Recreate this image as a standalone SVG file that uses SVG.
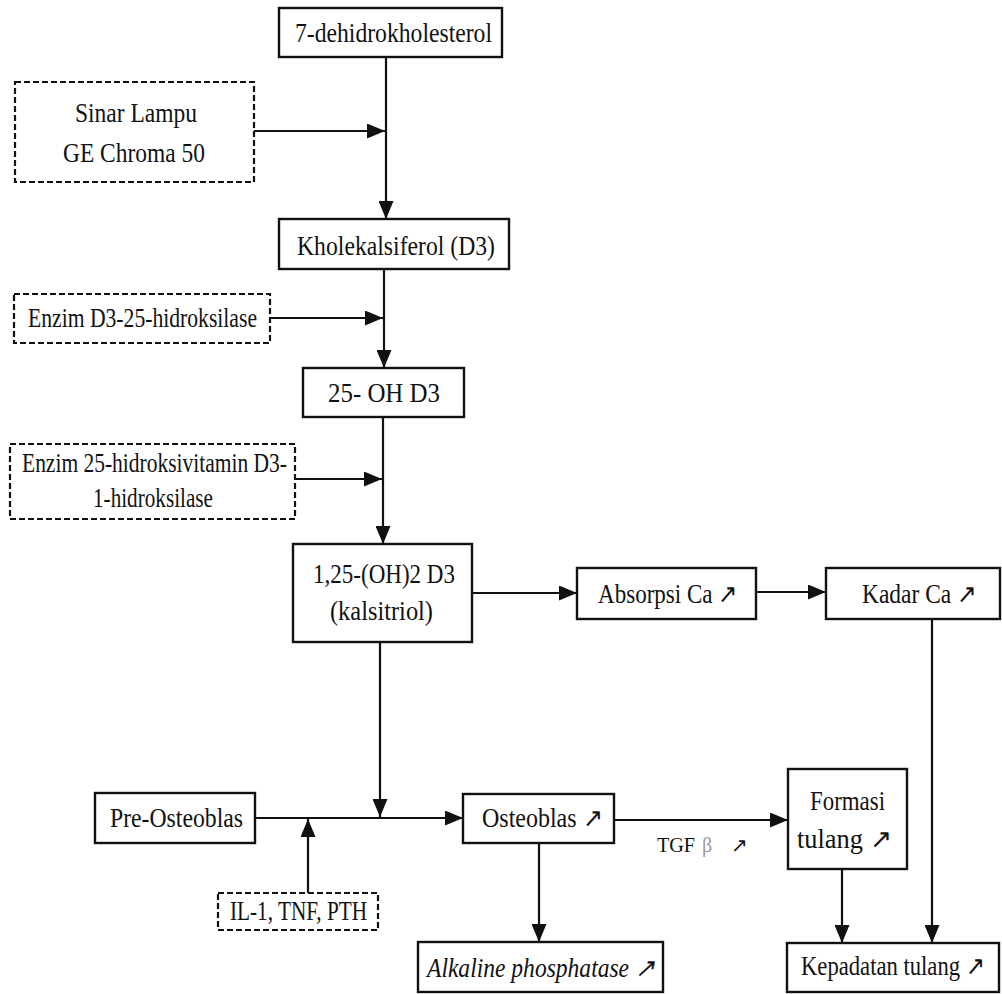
<svg xmlns="http://www.w3.org/2000/svg" width="1002" height="994" viewBox="0 0 1002 994">
<style>
.box{fill:#fff;stroke:#111;stroke-width:2.4}
.dbox{fill:#fff;stroke:#111;stroke-width:2.2;stroke-dasharray:6 3}
.c{fill:none;stroke:#111;stroke-width:2.2}
text{font-family:"Liberation Serif","Times New Roman",serif;font-size:27px;fill:#111}
.it{font-style:italic}
.sm{font-size:20px}
.beta{fill:#999}
</style>
<defs>
<marker id="ah" viewBox="0 0 18 15" refX="18" refY="7.5" markerWidth="18" markerHeight="15" markerUnits="userSpaceOnUse" orient="auto">
<path d="M0,0 L18,7.5 L0,15 z" fill="#111"/>
</marker>
</defs>
<rect width="1002" height="994" fill="#fff"/>
<g id="connectors">
<path class="c" d="M386,57 V219" marker-end="url(#ah)"/>
<path class="c" d="M254,131 H385" marker-end="url(#ah)"/>
<path class="c" d="M384,269 V368" marker-end="url(#ah)"/>
<path class="c" d="M270,318 H383" marker-end="url(#ah)"/>
<path class="c" d="M383,417 V544" marker-end="url(#ah)"/>
<path class="c" d="M295,479 H382" marker-end="url(#ah)"/>
<path class="c" d="M380,642 V817" marker-end="url(#ah)"/>
<path class="c" d="M255,818 H463" marker-end="url(#ah)"/>
<path class="c" d="M308,893 V819" marker-end="url(#ah)"/>
<path class="c" d="M472,593 H577" marker-end="url(#ah)"/>
<path class="c" d="M756,592 H826" marker-end="url(#ah)"/>
<path class="c" d="M614,820 H788" marker-end="url(#ah)"/>
<path class="c" d="M539,843 V942" marker-end="url(#ah)"/>
<path class="c" d="M842,869 V943" marker-end="url(#ah)"/>
<path class="c" d="M932,619 V943" marker-end="url(#ah)"/>
</g>
<g id="n-dehidro">
<rect class="box" x="279" y="8" width="223" height="49"/>
<text x="295" y="42" textLength="197" lengthAdjust="spacingAndGlyphs">7-dehidrokholesterol</text>
</g>
<g id="n-sinar">
<rect class="dbox" x="15" y="82" width="239" height="100"/>
<text x="75" y="122" textLength="122" lengthAdjust="spacingAndGlyphs">Sinar Lampu</text>
<text x="63" y="162" textLength="142" lengthAdjust="spacingAndGlyphs">GE Chroma 50</text>
</g>
<g id="n-kholekalsiferol">
<rect class="box" x="279" y="219" width="230" height="50"/>
<text x="297" y="255" textLength="198" lengthAdjust="spacingAndGlyphs">Kholekalsiferol (D3)</text>
</g>
<g id="n-enzim1">
<rect class="dbox" x="14" y="294" width="256" height="49"/>
<text x="28" y="327" textLength="229" lengthAdjust="spacingAndGlyphs">Enzim D3-25-hidroksilase</text>
</g>
<g id="n-25oh">
<rect class="box" x="303" y="368" width="161" height="49"/>
<text x="328" y="402" textLength="112" lengthAdjust="spacingAndGlyphs">25- OH D3</text>
</g>
<g id="n-enzim2">
<rect class="dbox" x="10" y="444" width="285" height="75"/>
<text x="22" y="472" textLength="265" lengthAdjust="spacingAndGlyphs">Enzim 25-hidroksivitamin D3-</text>
<text x="93" y="507" textLength="120" lengthAdjust="spacingAndGlyphs">1-hidroksilase</text>
</g>
<g id="n-kalsitriol">
<rect class="box" x="293" y="544" width="179" height="98"/>
<text x="313" y="583" textLength="142" lengthAdjust="spacingAndGlyphs">1,25-(OH)2 D3</text>
<text x="330" y="620" textLength="103" lengthAdjust="spacingAndGlyphs">(kalsitriol)</text>
</g>
<g id="n-absorpsi">
<rect class="box" x="577" y="568" width="179" height="51"/>
<text x="598" y="603" textLength="140" lengthAdjust="spacingAndGlyphs">Absorpsi Ca ↗</text>
</g>
<g id="n-kadar">
<rect class="box" x="826" y="568" width="174" height="51"/>
<text x="862" y="603" textLength="115" lengthAdjust="spacingAndGlyphs">Kadar Ca ↗</text>
</g>
<g id="n-preosteoblas">
<rect class="box" x="95" y="793" width="160" height="50"/>
<text x="110" y="827" textLength="133" lengthAdjust="spacingAndGlyphs">Pre-Osteoblas</text>
</g>
<g id="n-il">
<rect class="dbox" x="218" y="893" width="160" height="37"/>
<text x="230" y="920" textLength="137" lengthAdjust="spacingAndGlyphs">IL-1, TNF, PTH</text>
</g>
<g id="n-osteoblas">
<rect class="box" x="463" y="794" width="151" height="49"/>
<text x="482" y="827" textLength="121" lengthAdjust="spacingAndGlyphs">Osteoblas ↗</text>
</g>
<g id="n-tgf">
<text class="sm" x="657" y="852" textLength="38" lengthAdjust="spacingAndGlyphs">TGF</text>
<text class="sm beta" x="702" y="852">β</text>
<text class="sm" x="731" y="852">↗</text>
</g>
<g id="n-formasi">
<rect class="box" x="788" y="769" width="119" height="100"/>
<text x="810" y="810" textLength="75" lengthAdjust="spacingAndGlyphs">Formasi</text>
<text x="797" y="848" textLength="95" lengthAdjust="spacingAndGlyphs">tulang ↗</text>
</g>
<g id="n-alkaline">
<rect class="box" x="418" y="942" width="245" height="50"/>
<text class="it" x="427" y="977" textLength="228" lengthAdjust="spacingAndGlyphs">Alkaline phosphatase ↗</text>
</g>
<g id="n-kepadatan">
<rect class="box" x="787" y="943" width="212" height="49"/>
<text x="893" y="975" font-size="24" text-anchor="middle" textLength="184" lengthAdjust="spacingAndGlyphs">Kepadatan tulang ↗</text>
</g>
</svg>
